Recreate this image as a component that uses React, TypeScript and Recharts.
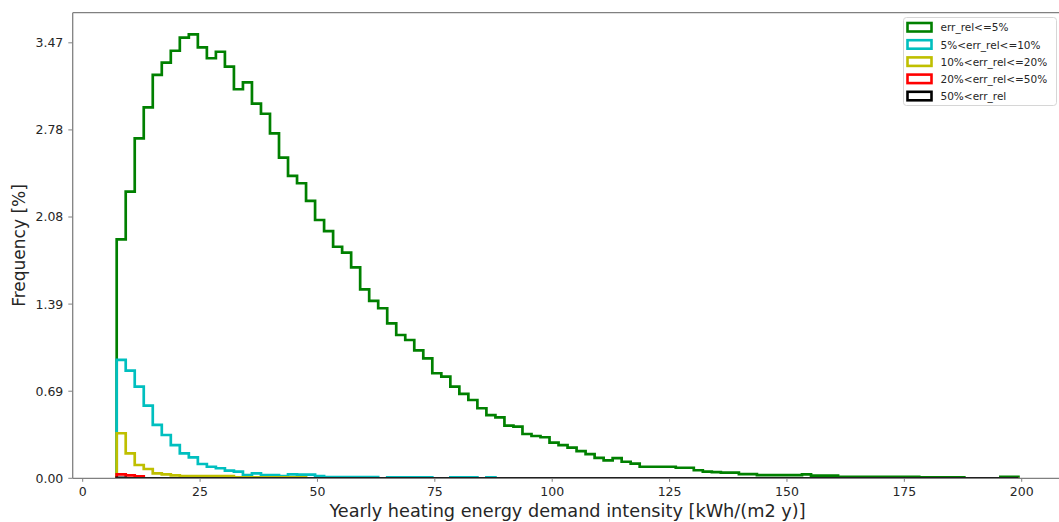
import React from 'react';
import { LineChart, Line, XAxis, YAxis, ReferenceLine, Legend } from 'recharts';

// Histogram bins: 100 bins starting at BIN_START with width BIN_WIDTH
const BIN_START = 7.24;
const BIN_WIDTH = 1.9206;

const greenVals = [
  1.904, 2.284, 2.709, 2.956, 3.214, 3.312, 3.407, 3.511, 3.538, 3.434,
  3.347, 3.399, 3.280, 3.100, 3.155, 2.985, 2.905, 2.749, 2.555, 2.409,
  2.351, 2.210, 2.058, 1.970, 1.845, 1.798, 1.681, 1.506, 1.413, 1.355,
  1.235, 1.142, 1.102, 1.020, 0.956, 0.837, 0.810, 0.730, 0.672, 0.624,
  0.558, 0.504, 0.486, 0.419, 0.411, 0.353, 0.337, 0.327, 0.284, 0.265,
  0.245, 0.216, 0.193, 0.162, 0.143, 0.160, 0.132, 0.117, 0.092, 0.092,
  0.092, 0.092, 0.084, 0.084, 0.064, 0.053, 0.050, 0.045, 0.045, 0.034,
  0.034, 0.026, 0.026, 0.026, 0.026, 0.026, 0.032, 0.021, 0.021, 0.021,
  0.012, 0.012, 0.012, 0.012, 0.012, 0.012, 0.012, 0.012, 0.012, 0.008,
  0.008, 0.008, 0.008, 0.008, 0, 0, 0, 0, 0.012, 0.012,
];

const cyanVals = [
  0.943, 0.858, 0.730, 0.579, 0.425, 0.345, 0.265, 0.199, 0.167, 0.114,
  0.092, 0.080, 0.061, 0.053, 0.026, 0.040, 0.026, 0.026, 0.018, 0.032,
  0.030, 0.030, 0.018, 0.010, 0.010, 0.010, 0.010, 0.010, 0.010, 0,
  0.008, 0.008, 0.008, 0.008, 0.008, 0, 0, 0.008, 0.008, 0.008,
  0, 0.008, 0, 0, 0, 0, 0, 0, 0, 0,
  0, 0, 0, 0, 0, 0, 0, 0, 0, 0,
  0, 0, 0, 0, 0, 0, 0, 0, 0, 0,
  0, 0, 0, 0, 0, 0, 0, 0, 0, 0,
  0, 0, 0, 0, 0, 0, 0, 0, 0, 0,
  0, 0, 0, 0, 0, 0, 0, 0, 0, 0,
];

const yellowVals = [
  0.359, 0.199, 0.106, 0.074, 0.040, 0.032, 0.024, 0.018, 0.018, 0.018,
  0.018, 0.018, 0.018, 0.008, 0.008, 0.008, 0.008, 0.008, 0.008, 0.008,
  0.008, 0, 0, 0, 0, 0, 0, 0, 0, 0,
  0, 0, 0, 0, 0, 0, 0, 0, 0, 0,
  0, 0, 0, 0, 0, 0, 0, 0, 0, 0,
  0, 0, 0, 0, 0, 0, 0, 0, 0, 0,
  0, 0, 0, 0, 0, 0, 0, 0, 0, 0,
  0, 0, 0, 0, 0, 0, 0, 0, 0, 0,
  0, 0, 0, 0, 0, 0, 0, 0, 0, 0,
  0, 0, 0, 0, 0, 0, 0, 0, 0, 0,
];

const redVals = [
  0.032, 0.024, 0.016, 0, 0, 0, 0, 0, 0, 0,
  0, 0, 0, 0, 0, 0, 0, 0, 0, 0,
  0, 0, 0, 0, 0, 0, 0, 0, 0, 0,
  0, 0, 0, 0, 0, 0, 0, 0, 0, 0,
  0, 0, 0, 0, 0, 0, 0, 0, 0, 0,
  0, 0, 0, 0, 0, 0, 0, 0, 0, 0,
  0, 0, 0, 0, 0, 0, 0, 0, 0, 0,
  0, 0, 0, 0, 0, 0, 0, 0, 0, 0,
  0, 0, 0, 0, 0, 0, 0, 0, 0, 0,
  0, 0, 0, 0, 0, 0, 0, 0, 0, 0,
];

const blackVals = [
  0.004, 0, 0, 0, 0, 0, 0, 0, 0, 0,
  0, 0, 0, 0, 0, 0, 0, 0, 0, 0,
  0, 0, 0, 0, 0, 0, 0, 0, 0, 0,
  0, 0, 0, 0, 0, 0, 0, 0, 0, 0,
  0, 0, 0, 0, 0, 0, 0, 0, 0, 0,
  0, 0, 0, 0, 0, 0, 0, 0, 0, 0,
  0, 0, 0, 0, 0, 0, 0, 0, 0, 0,
  0, 0, 0, 0, 0, 0, 0, 0, 0, 0,
  0, 0, 0, 0, 0, 0, 0, 0, 0, 0,
  0, 0, 0, 0, 0, 0, 0, 0, 0, 0,
];

const SERIES_NAMES = ['err_rel<=5%', '5%<err_rel<=10%', '10%<err_rel<=20%', '20%<err_rel<=50%', '50%<err_rel'];
const SERIES_KEYS = ['g', 'c', 'y', 'r', 'k'];
const SERIES_COLORS = ['#008000', '#00bfbf', '#bfbf00', '#ff0000', '#000000'];
const SERIES_VALUES = [greenVals, cyanVals, yellowVals, redVals, blackVals];

const X_TICKS = [0, 25, 50, 75, 100, 125, 150, 175, 200];
const Y_TICKS = [0, 0.694, 1.388, 2.082, 2.776, 3.47];
const X_DOMAIN: [number, number] = [-2.13, 209.22];
const Y_DOMAIN: [number, number] = [0, 3.71];

const X_LABEL = 'Yearly heating energy demand intensity [kWh/(m2 y)]';
const Y_LABEL = 'Frequency [%]';

// Build step rows: (edge0, 0), (edge_i, v_i)..., (edge_100, v_99), (edge_100, 0)
const buildRows = () => {
  const n = greenVals.length;
  const rows: any[] = [];
  const zero: any = { x: BIN_START };
  SERIES_KEYS.forEach((k) => (zero[k] = 0));
  rows.push(zero);
  for (let i = 0; i < n; i++) {
    const r: any = { x: BIN_START + i * BIN_WIDTH };
    SERIES_KEYS.forEach((k, j) => (r[k] = SERIES_VALUES[j][i]));
    rows.push(r);
  }
  const endX = BIN_START + n * BIN_WIDTH;
  const last: any = { x: endX };
  SERIES_KEYS.forEach((k, j) => (last[k] = SERIES_VALUES[j][n - 1]));
  rows.push(last);
  const endZero: any = { x: endX };
  SERIES_KEYS.forEach((k) => (endZero[k] = 0));
  rows.push(endZero);
  return rows;
};

const data = buildRows();

const FONT = 'DejaVu Sans, sans-serif';
const SPINE = '#808080';

const renderLegend = () => (
  <svg width={156} height={91} style={{ display: 'block', overflow: 'visible' }}>
    <rect x={0.5} y={0.5} width={153} height={88} rx={3} ry={3} fill="#ffffff" fillOpacity={0.85} stroke="#d6d6d6" strokeWidth={1} />
    {SERIES_NAMES.map((name, i) => (
      <g key={name}>
        <rect x={4.5} y={6 + i * 17.2} width={24} height={8.5} fill="none" stroke={SERIES_COLORS[i]} strokeWidth={2.6} />
        <text x={37.5} y={10.3 + i * 17.2} dominantBaseline="central" fontSize={10.5} fontFamily={FONT} fill="#262626">
          {name}
        </text>
      </g>
    ))}
  </svg>
);

const XLabelContent = () => (
  <text x={567.5} y={516.7} textAnchor="middle" fontSize={17.7} fontFamily={FONT} fill="#262626">
    {X_LABEL}
  </text>
);

const YLabelContent = (props: any) => {
  const vb = props.viewBox || {};
  const cy = (vb.y ?? 12.7) + (vb.height ?? 465.6) / 2;
  const x = 24.5;
  return (
    <text x={x} y={cy} transform={`rotate(-90 ${x} ${cy})`} textAnchor="middle" fontSize={17} fontFamily={FONT} fill="#262626">
      {Y_LABEL}
    </text>
  );
};

export default function App() {
  return (
    <div style={{ position: 'absolute', left: 0, top: 0, width: 1059, height: 522, background: '#fff', overflow: 'hidden' }}>
      <LineChart
        width={1059}
        height={522}
        data={data}
        margin={{ top: 12.7, right: -6, left: 0, bottom: 0 }}
        style={{ fontFamily: FONT }}
      >
        <XAxis
          dataKey="x"
          type="number"
          domain={X_DOMAIN}
          ticks={X_TICKS}
          allowDataOverflow
          height={43.7}
          tickSize={3.5}
          tickMargin={5}
          axisLine={{ stroke: SPINE, strokeWidth: 1.3 }}
          tickLine={{ stroke: SPINE, strokeWidth: 1 }}
          tick={{ fill: '#262626', fontSize: 12.5, fontFamily: FONT }}
          interval={0}
          label={{ content: XLabelContent }}
        />
        <YAxis
          type="number"
          domain={Y_DOMAIN}
          ticks={Y_TICKS}
          allowDataOverflow
          width={72.7}
          tickSize={4.4}
          tickMargin={5}
          axisLine={{ stroke: SPINE, strokeWidth: 1.3 }}
          tickLine={{ stroke: SPINE, strokeWidth: 1 }}
          tick={{ fill: '#262626', fontSize: 12.5, fontFamily: FONT }}
          tickFormatter={(v: number) => v.toFixed(2)}
          interval={0}
          label={{ content: YLabelContent }}
        />
        <ReferenceLine y={Y_DOMAIN[1]} stroke={SPINE} strokeWidth={1.3} ifOverflow="visible" />
        {SERIES_KEYS.map((k, i) => (
          <Line
            key={k}
            dataKey={k}
            name={SERIES_NAMES[i]}
            type="stepAfter"
            stroke={SERIES_COLORS[i]}
            strokeWidth={2.7}
            strokeLinejoin="miter"
            strokeLinecap="butt"
            dot={false}
            activeDot={false}
            isAnimationActive={false}
          />
        ))}
        <Legend
          layout="horizontal"
          verticalAlign="middle"
          align="center"
          content={renderLegend}
          wrapperStyle={{ left: 903, top: 17, width: 156, height: 91 }}
        />
      </LineChart>
    </div>
  );
}
